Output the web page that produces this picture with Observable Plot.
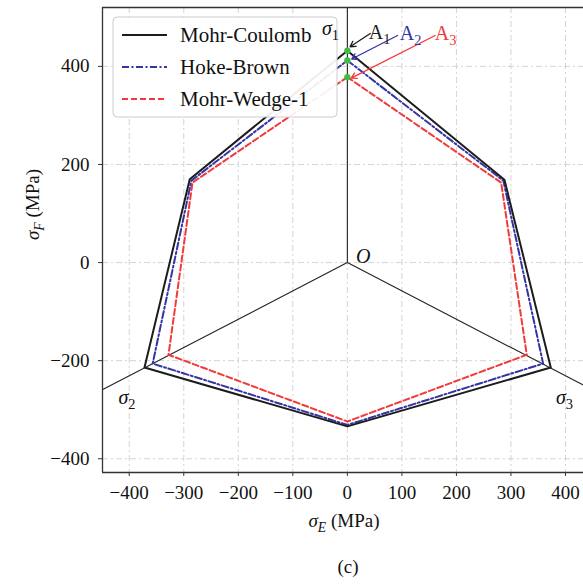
<!DOCTYPE html>
<html><head><meta charset="utf-8">
<script src="https://cdn.jsdelivr.net/npm/d3@7"></script>
<script src="https://cdn.jsdelivr.net/npm/@observablehq/plot@0.6"></script>
<style>body{margin:0;background:#fff}</style>
</head><body>
<script>
// ---- data ----
const models = ["Mohr-Coulomb", "Hoke-Brown", "Mohr-Wedge-1"];
const colors = ["#1c1c1c", "#3434a4", "#f23a3a"];
const dashes = [null, "7,2.5,2,2.5", "6,3"];
// hexagon vertices: top, upper-right, lower-right, bottom, lower-left, upper-left, top
const mcX = [0, 288, 373, 0, -372, -289, 0];
const mcY = [432, 169, -214, -334, -214, 170, 432];
const hbX = [0, 286, 359, 0, -357, -286, 0];
const hbY = [412, 167, -206, -331, -206, 167, 412];
const mwX = [0, 282, 329, 0, -328, -284, 0];
const mwY = [378, 163, -188, -324, -188, 163, 378];
const xTicks = [-400, -300, -200, -100, 0, 100, 200, 300, 400];
const yTicks = [-400, -200, 0, 200, 400];
const apexNames = ["A1", "A2", "A3"];
const apexY = [432, 412, 378];
const annLabelX = [59, 116, 180];
const annLabelY = [469, 467, 467];
const arrowX1 = [42, 92, 161];
const arrowY1 = [467, 463, 463];
const arrowX2 = [5, 8, 7];
const arrowY2 = [440, 415, 376];
const axisNames = ["σ1", "σ2", "σ3", "O"];
const axisLabelX = [-31, -404, 398, 29];
const axisLabelY = [478, -276, -276, 12];
const axisAngles = [90, 210, 330];

const xDomain = [-449, 433];
const yDomain = [-428, 520];

const hex = [[mcX, mcY], [hbX, hbY], [mwX, mwY]].map(([xs, ys], i) =>
  xs.map((x, j) => ({model: models[i], x, y: ys[j]})));
const axes = axisAngles.map(a => ({x2: 900 * Math.cos(a * Math.PI / 180), y2: 900 * Math.sin(a * Math.PI / 180)}));
const apex = apexNames.map((n, i) => ({name: n, x: 0, y: apexY[i], color: colors[i]}));
const ann = apexNames.map((n, i) => ({name: n, lx: annLabelX[i], ly: annLabelY[i], x1: arrowX1[i], y1: arrowY1[i], x2: arrowX2[i], y2: arrowY2[i], color: colors[i]}));
const axLab = axisNames.map((n, i) => ({name: n, x: axisLabelX[i], y: axisLabelY[i]}));

const chart = Plot.plot({
  width: 583, height: 586,
  marginLeft: 102, marginRight: 0, marginTop: 7, marginBottom: 114,
  style: {fontFamily: "'Liberation Serif', serif", fontSize: "19px", background: "white", color: "#111"},
  x: {domain: xDomain, ticks: xTicks, tickSize: 4, tickPadding: 9, label: null},
  y: {domain: yDomain, ticks: yTicks, tickSize: 4, tickPadding: 9, label: null},
  marks: [
    Plot.gridX(xTicks, {stroke: "#d4d4d4", strokeOpacity: 1, strokeDasharray: "6,3,2,3"}),
    Plot.gridY(yTicks, {stroke: "#d4d4d4", strokeOpacity: 1, strokeDasharray: "6,3,2,3"}),
    Plot.link(axes, {x1: 0, y1: 0, x2: "x2", y2: "y2", stroke: "#222", strokeWidth: 1.1, clip: true}),
    Plot.line(hex[2], {x: "x", y: "y", stroke: colors[2], strokeWidth: 2, strokeDasharray: dashes[2]}),
    Plot.line(hex[1], {x: "x", y: "y", stroke: colors[1], strokeWidth: 2, strokeDasharray: dashes[1]}),
    Plot.line(hex[0], {x: "x", y: "y", stroke: colors[0], strokeWidth: 2}),
    Plot.arrow(ann, {x1: "x1", y1: "y1", x2: "x2", y2: "y2", stroke: "color", strokeWidth: 1.3, headLength: 7}),
    Plot.dot(apex, {x: "x", y: "y", r: 3.2, fill: "#44bb44", stroke: "none"}),
    Plot.text(ann, {x: "lx", y: "ly", text: "name", fill: "color", fontSize: 20}),
    Plot.text(axLab, {x: "x", y: "y", text: "name", fontSize: 20, fill: "#111"}),
    Plot.axisX({ticks: xTicks, tickSize: 4, tickPadding: 9, stroke: "#333", label: null}),
    Plot.axisY({ticks: yTicks, tickSize: 4, tickPadding: 9, stroke: "#333", label: null}),
    Plot.ruleX([xDomain[0]], {stroke: "#333", strokeWidth: 1.3}),
    Plot.ruleY([yDomain[0], yDomain[1]], {stroke: "#333", strokeWidth: 1.3}),
    Plot.text(["σE (MPa)"], {frameAnchor: "bottom", dy: 54, dx: 1, fontSize: 19}),
    Plot.text(["σF (MPa)"], {frameAnchor: "left", rotate: -90, dx: -70, fontSize: 19}),
    Plot.text(["(c)"], {frameAnchor: "bottom", dy: 100, dx: 5, fontSize: 19})
  ]
});
document.body.append(chart);

// rich text (italic symbols, subscripts)
const rich = {
  "σE (MPa)": [["σ", "i"], ["E", "i", "sub"], [" (MPa)"]],
  "σF (MPa)": [["σ", "i"], ["F", "i", "sub"], [" (MPa)"]],
  "σ1": [["σ", "i"], ["1", "", "sub"]],
  "σ2": [["σ", "i"], ["2", "", "sub"]],
  "σ3": [["σ", "i"], ["3", "", "sub"]],
  "O": [["O", "i"]],
  "A1": [["A"], ["1", "", "sub"]],
  "A2": [["A"], ["2", "", "sub"]],
  "A3": [["A"], ["3", "", "sub"]]
};
let axisLabelGroup = null;
d3.select(chart).selectAll("text").each(function() {
  const key = this.textContent;
  const parts = rich[key];
  if (!parts) return;
  if (key === "σ1") axisLabelGroup = this.parentNode;
  const t = d3.select(this);
  t.text(null);
  let shifted = false;
  for (const [s, style, pos] of parts) {
    const sp = t.append("tspan").text(s);
    if (style === "i") sp.attr("font-style", "italic");
    if (pos === "sub" && !shifted) { sp.attr("dy", 5).attr("font-size", "0.72em"); shifted = true; }
    else if (pos !== "sub" && shifted) { sp.attr("dy", -5); shifted = false; }
  }
});

// legend
const svg = d3.select(chart);
const lg = svg.append("g").attr("text-anchor", "start");
lg.append("rect").attr("x", 113).attr("y", 17).attr("width", 224).attr("height", 100).attr("rx", 4)
  .attr("fill", "white").attr("fill-opacity", 0.92).attr("stroke", "#cccccc");
models.forEach((m, i) => {
  const y = 35 + 32 * i;
  lg.append("line").attr("x1", 122).attr("x2", 167).attr("y1", y).attr("y2", y)
    .attr("stroke", colors[i]).attr("stroke-width", 2).attr("stroke-dasharray", dashes[i]);
  lg.append("text").attr("x", 180).attr("y", y).attr("dy", "0.35em").attr("font-size", 21)
    .attr("text-anchor", "start").attr("fill", "#111").text(m);
});
if (axisLabelGroup) chart.appendChild(axisLabelGroup);
</script>
</body></html>
